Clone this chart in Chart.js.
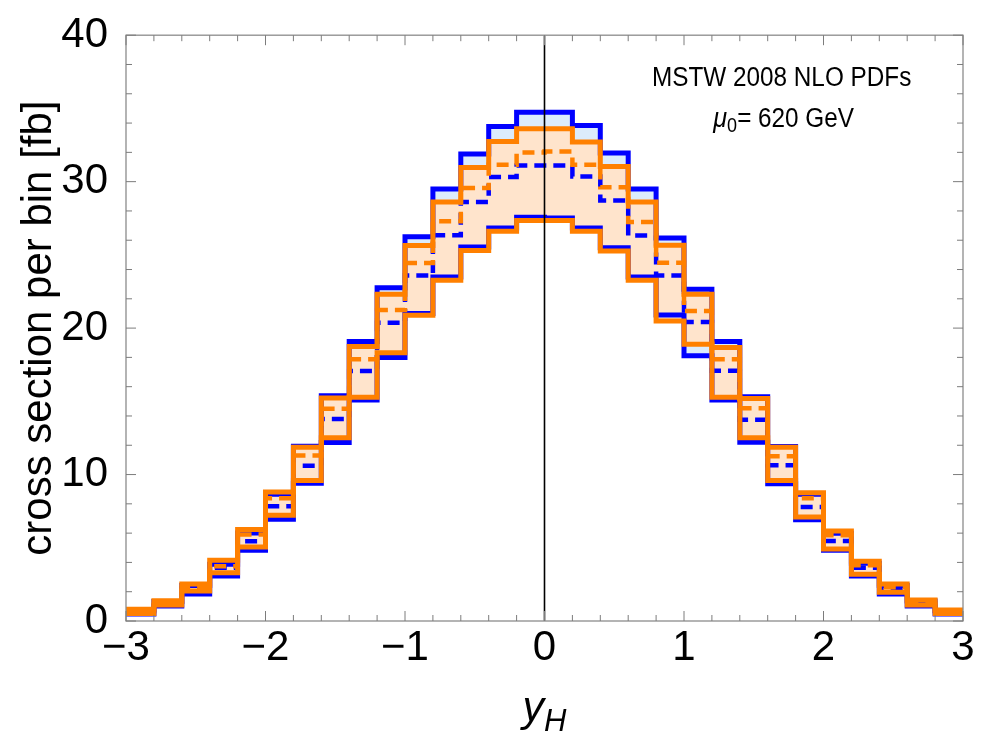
<!DOCTYPE html>
<html>
<head>
<meta charset="utf-8">
<script src="https://cdn.jsdelivr.net/npm/chart.js@4.4.0/dist/chart.umd.min.js"></script>
<style>
html,body{margin:0;padding:0;background:#fff;}
#wrap{width:986px;height:739px;position:relative;}
</style>
</head>
<body>
<div id="wrap"><canvas id="c"></canvas></div>
<script>
// ---- data ----
const binEdges = [-3.0,-2.8,-2.6,-2.4,-2.2,-2.0,-1.8,-1.6,-1.4,-1.2,-1.0,-0.8,-0.6,-0.4,-0.2,
                   0.0, 0.2, 0.4, 0.6, 0.8, 1.0, 1.2, 1.4, 1.6, 1.8, 2.0, 2.2, 2.4, 2.6, 2.8, 3.0];
const blueUpper = [0.75,1.33,2.42,3.88,6.01,8.65,11.93,15.38,19.08,22.76,26.23,29.50,31.88,33.76,34.74,
                   34.74,33.83,31.95,29.50,26.16,22.65,19.08,15.32,11.91,8.65,5.99,3.95,2.42,1.36,0.71];
const blueCentral = [0.61,1.23,2.25,3.63,5.45,7.83,10.60,13.80,17.07,20.37,23.60,26.34,28.61,30.31,31.11,
                     31.11,30.36,28.71,26.32,23.60,20.42,17.09,13.75,10.64,7.78,5.47,3.63,2.25,1.23,0.61];
const blueLower = [0.48,1.02,1.84,3.08,4.83,6.94,9.41,12.19,15.09,17.99,20.99,23.49,25.53,26.84,27.57,
                   27.52,26.84,25.48,23.49,20.90,18.11,15.09,12.21,9.37,6.92,4.83,3.08,1.84,1.02,0.48];
const orangeUpper = [0.80,1.38,2.52,4.15,6.24,8.80,11.87,15.23,18.74,22.31,25.64,28.61,30.97,32.74,33.61,
                     33.61,32.70,31.04,28.61,25.66,22.31,18.67,15.20,11.87,8.76,6.15,4.08,2.52,1.43,0.75];
const orangeCentral = [0.68,1.26,2.31,3.74,5.90,8.39,11.30,14.50,17.88,21.24,24.44,27.30,29.56,31.16,31.99,
                       32.06,31.16,29.61,27.25,24.46,21.17,17.88,14.52,11.25,8.39,5.85,3.81,2.31,1.26,0.65];
const orangeLower = [0.51,1.09,2.04,3.29,5.06,7.22,9.60,12.51,15.27,18.31,20.88,23.26,25.30,26.62,27.35,
                     27.35,26.62,25.26,23.26,20.49,18.90,15.27,12.51,9.60,7.10,4.92,3.20,1.97,1.09,0.51];
const xMajorTicks = [-3,-2,-1,0,1,2,3];
const yMajorTicks = [0,10,20,30,40];
const pdfLabel = 'MSTW 2008 NLO PDFs';
const scaleLabel = ['\u03bc','0','= 620 GeV'];

// ---- build step points (left bin edge holds the bin value) ----
function steps(vals){
  return binEdges.map((x,i)=>({x:x, y:vals[Math.min(i, vals.length-1)]}));
}

const BLUE = 'rgb(0,0,255)';
const ORANGE = 'rgb(255,128,0)';
const LBLUE = 'rgb(220,236,252)';
const LORANGE = 'rgb(255,228,204)';
const FONT = "'Liberation Sans', Arial, Helvetica, sans-serif";

function ds(vals, color, opts){
  return Object.assign({
    data: steps(vals), borderColor: color, borderWidth: 5, stepped: 'before',
    pointRadius: 0, fill: false, backgroundColor: 'transparent', borderCapStyle: 'butt'
  }, opts||{});
}

const datasets = [
  ds(orangeCentral, ORANGE, {borderDash:[12,7], borderWidth:4.5}),
  ds(orangeUpper, ORANGE, {fill:{target:'+1'}, backgroundColor:LORANGE}),
  ds(orangeLower, ORANGE),
  ds(blueCentral, BLUE, {borderDash:[12,7], borderWidth:4.5}),
  ds(blueUpper, BLUE, {fill:{target:'+1'}, backgroundColor:LBLUE}),
  ds(blueLower, BLUE)
];

function isMajor(list, v){ return list.some(m=>Math.abs(m-v)<1e-6); }

const decor = {
  id:'decor',
  afterDatasetsDraw(chart){
    const {ctx, chartArea:a, scales:{x,y}} = chart;
    ctx.save();
    // zero line
    const x0 = x.getPixelForValue(0);
    ctx.strokeStyle = '#000'; ctx.lineWidth = 1.6;
    ctx.beginPath(); ctx.moveTo(x0, a.top); ctx.lineTo(x0, a.bottom); ctx.stroke();
    // frame
    ctx.strokeStyle = '#8c8c8c'; ctx.lineWidth = 1.3;
    ctx.strokeRect(a.left, a.top, a.right-a.left, a.bottom-a.top);
    // inside ticks
    ctx.strokeStyle = '#7c7c7c'; ctx.lineWidth = 1;
    ctx.beginPath();
    x.ticks.forEach(t=>{
      const px = x.getPixelForValue(t.value);
      const L = isMajor(xMajorTicks, t.value) ? 10 : 6;
      ctx.moveTo(px, a.bottom); ctx.lineTo(px, a.bottom-L);
      ctx.moveTo(px, a.top); ctx.lineTo(px, a.top+L);
    });
    y.ticks.forEach(t=>{
      const py = y.getPixelForValue(t.value);
      const L = isMajor(yMajorTicks, t.value) ? 10 : 6;
      ctx.moveTo(a.left, py); ctx.lineTo(a.left+L, py);
      ctx.moveTo(a.right, py); ctx.lineTo(a.right-L, py);
    });
    ctx.stroke();
    ctx.restore();
  },
  afterDraw(chart){
    const {ctx, scales:{x,y}} = chart;
    ctx.save();
    ctx.fillStyle = '#000';
    ctx.textBaseline = 'alphabetic';
    const cx = x.getPixelForValue(1.7);
    const K = 0.9; // slight horizontal condensing, as in the reference
    // annotation line 1
    ctx.save();
    ctx.translate(cx, y.getPixelForValue(37.2)+10);
    ctx.scale(K, 1);
    ctx.font = '27px ' + FONT;
    ctx.textAlign = 'center';
    ctx.fillText(pdfLabel, 0, 0);
    ctx.restore();
    // mu_0 = 620 GeV
    ctx.save();
    ctx.translate(cx + 2, y.getPixelForValue(34.4)+10);
    ctx.scale(K, 1);
    ctx.textAlign = 'left';
    const f1 = 'italic 28px ' + FONT, f2 = '20px ' + FONT, f3 = '27px ' + FONT;
    ctx.font = f1; const w1 = ctx.measureText(scaleLabel[0]).width;
    ctx.font = f2; const w2 = ctx.measureText(scaleLabel[1]).width;
    ctx.font = f3; const w3 = ctx.measureText(scaleLabel[2]).width;
    let sx = -(w1+w2+w3)/2;
    ctx.font = f1; ctx.fillText(scaleLabel[0], sx, 0); sx += w1;
    ctx.font = f2; ctx.fillText(scaleLabel[1], sx, 5); sx += w2;
    ctx.font = f3; ctx.fillText(scaleLabel[2], sx, 0);
    ctx.restore();
    // x axis title y_H
    const g1 = 'italic 43px ' + FONT, g2 = 'italic 31px ' + FONT;
    ctx.font = g1; const a1 = ctx.measureText('y').width;
    ctx.font = g2; const a2 = ctx.measureText('H').width;
    let tx = x.getPixelForValue(0) - (a1+a2)/2;
    ctx.font = g1; ctx.fillText('y', tx, 721); tx += a1;
    ctx.font = g2; ctx.fillText('H', tx, 731);
    ctx.restore();
  }
};

new Chart(document.getElementById('c'), {
  type:'line',
  data:{datasets},
  options:{
    responsive:true, maintainAspectRatio:false, animation:false,
    layout:{padding:{top:33, right:23, left:0, bottom:0}},
    plugins:{legend:{display:false}, tooltip:{enabled:false}, filler:{drawTime:'beforeDatasetsDraw'}},
    scales:{
      x:{type:'linear', min:-3, max:3,
         grid:{display:false}, border:{display:false},
         ticks:{stepSize:0.2, autoSkip:false, maxRotation:0, padding:-6, color:'#000',
                font:{size:42, family:FONT},
                callback:(v)=> isMajor(xMajorTicks, v) ? String(Math.round(v)).replace('-', '\u2212') : ''},
         afterFit:(s)=>{ s.height = 118; }
      },
      y:{type:'linear', min:0, max:40,
         grid:{display:false}, border:{display:false},
         ticks:{stepSize:2, autoSkip:false, padding:10, color:'#000',
                font:{size:42, family:FONT},
                callback:(v)=> isMajor(yMajorTicks, v) ? String(v) : ''},
         title:{display:true, text:'cross section per bin [fb]', color:'#000',
                font:{size:42, family:FONT}, padding:{top:14, bottom:0}},
         afterFit:(s)=>{ s.width = 126; }
      }
    }
  },
  plugins:[decor]
});
</script>
</body>
</html>
